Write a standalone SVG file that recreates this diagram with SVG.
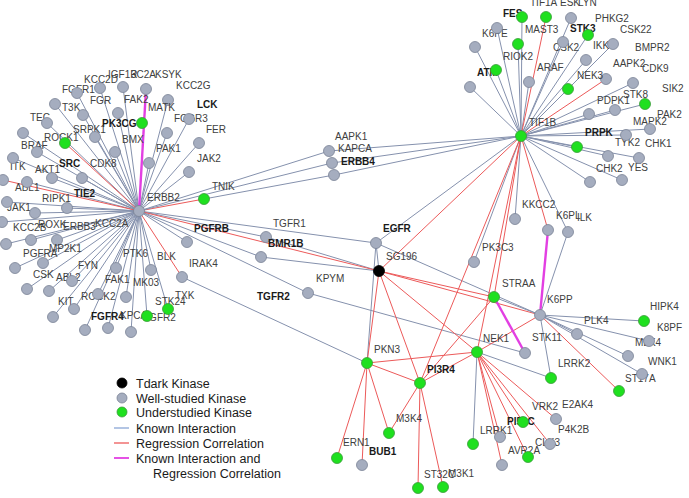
<svg xmlns="http://www.w3.org/2000/svg" width="689" height="498" viewBox="0 0 689 498">
<style>
.k{stroke:#8591ad;stroke-width:1;fill:none}
.r{stroke:#ec5a5a;stroke-width:1;fill:none}
.m{stroke:#e23fe2;stroke-width:2.4;fill:none}
.g{fill:#a5adbf;stroke:#7a8396;stroke-width:0.8}
.u{fill:#1fe01f;stroke:#3a9a3a;stroke-width:0.8}
.d{fill:#000;stroke:#000;stroke-width:0.8}
text{font-family:"Liberation Sans",Arial,sans-serif}
.t{font-size:10px;fill:#404040}
.b{font-weight:bold;fill:#1a1a1a}
.L{font-size:12.5px;fill:#1a1a1a}
</style>
<rect width="689" height="498" fill="#fff"/>
<g id="connectors">
<line class="k" x1="139" y1="211" x2="100" y2="88"/>
<line class="k" x1="139" y1="211" x2="77" y2="93"/>
<line class="k" x1="139" y1="211" x2="123" y2="87"/>
<line class="k" x1="139" y1="211" x2="168" y2="100"/>
<line class="k" x1="139" y1="211" x2="55" y2="104"/>
<line class="k" x1="139" y1="211" x2="83" y2="115"/>
<line class="k" x1="139" y1="211" x2="118" y2="113"/>
<line class="k" x1="139" y1="211" x2="189" y2="119"/>
<line class="k" x1="139" y1="211" x2="47" y2="123"/>
<line class="k" x1="139" y1="211" x2="23" y2="133"/>
<line class="k" x1="139" y1="211" x2="37" y2="152"/>
<line class="k" x1="139" y1="211" x2="95" y2="137"/>
<line class="k" x1="139" y1="211" x2="115" y2="152"/>
<line class="k" x1="139" y1="211" x2="167" y2="133"/>
<line class="k" x1="139" y1="211" x2="199" y2="143"/>
<line class="k" x1="139" y1="211" x2="149" y2="163"/>
<line class="k" x1="139" y1="211" x2="189" y2="172"/>
<line class="k" x1="139" y1="211" x2="13" y2="158"/>
<line class="k" x1="139" y1="211" x2="52" y2="178"/>
<line class="k" x1="139" y1="211" x2="82" y2="178"/>
<line class="k" x1="139" y1="211" x2="27" y2="182"/>
<line class="k" x1="139" y1="211" x2="7" y2="202"/>
<line class="k" x1="139" y1="211" x2="35" y2="213"/>
<line class="k" x1="139" y1="211" x2="67" y2="208"/>
<line class="k" x1="139" y1="211" x2="2" y2="222"/>
<line class="k" x1="139" y1="211" x2="6" y2="244"/>
<line class="k" x1="139" y1="211" x2="31" y2="240"/>
<line class="k" x1="139" y1="211" x2="57" y2="240"/>
<line class="k" x1="139" y1="211" x2="15" y2="268"/>
<line class="k" x1="139" y1="211" x2="43" y2="263"/>
<line class="k" x1="139" y1="211" x2="27" y2="289"/>
<line class="k" x1="139" y1="211" x2="49" y2="291"/>
<line class="k" x1="139" y1="211" x2="72" y2="281"/>
<line class="k" x1="139" y1="211" x2="116" y2="268"/>
<line class="k" x1="139" y1="211" x2="151" y2="270"/>
<line class="k" x1="139" y1="211" x2="187" y2="242"/>
<line class="k" x1="139" y1="211" x2="98" y2="294"/>
<line class="k" x1="139" y1="211" x2="126" y2="297"/>
<line class="k" x1="139" y1="211" x2="74" y2="309"/>
<line class="k" x1="139" y1="211" x2="53" y2="317"/>
<line class="k" x1="139" y1="211" x2="147" y2="316"/>
<line class="k" x1="139" y1="211" x2="168" y2="309"/>
<line class="k" x1="139" y1="211" x2="85" y2="330"/>
<line class="k" x1="139" y1="211" x2="108" y2="328"/>
<line class="k" x1="139" y1="211" x2="131" y2="332"/>
<line class="r" x1="139" y1="211" x2="65" y2="143"/>
<line class="r" x1="139" y1="211" x2="3" y2="180"/>
<line class="r" x1="139" y1="211" x2="204" y2="199"/>
<line class="r" x1="139" y1="211" x2="182" y2="277"/>
<line class="m" x1="139" y1="211" x2="146" y2="89"/>
<line class="k" x1="139" y1="211" x2="329" y2="151"/>
<line class="k" x1="139" y1="211" x2="332" y2="163"/>
<line class="k" x1="204" y1="199" x2="334" y2="175"/>
<line class="k" x1="329" y1="151" x2="521" y2="136"/>
<line class="k" x1="332" y1="163" x2="521" y2="136"/>
<line class="k" x1="334" y1="175" x2="521" y2="136"/>
<line class="k" x1="139" y1="211" x2="376" y2="243"/>
<line class="k" x1="376" y1="243" x2="521" y2="136"/>
<line class="k" x1="376" y1="243" x2="379" y2="271"/>
<line class="k" x1="376" y1="243" x2="540" y2="315"/>
<line class="k" x1="376" y1="243" x2="367" y2="363"/>
<line class="k" x1="139" y1="211" x2="266" y2="237"/>
<line class="k" x1="266" y1="237" x2="379" y2="271"/>
<line class="k" x1="139" y1="211" x2="261" y2="257"/>
<line class="k" x1="261" y1="257" x2="379" y2="271"/>
<line class="k" x1="139" y1="211" x2="308" y2="293"/>
<line class="k" x1="308" y1="293" x2="525" y2="353"/>
<line class="k" x1="182" y1="277" x2="367" y2="363"/>
<line class="r" x1="139" y1="211" x2="379" y2="271"/>
<line class="r" x1="379" y1="271" x2="521" y2="136"/>
<line class="r" x1="379" y1="271" x2="494" y2="297"/>
<line class="r" x1="379" y1="271" x2="540" y2="315"/>
<line class="r" x1="379" y1="271" x2="477" y2="352"/>
<line class="r" x1="379" y1="271" x2="367" y2="363"/>
<line class="r" x1="379" y1="271" x2="420" y2="383"/>
<line class="k" x1="521" y1="136" x2="522" y2="17"/>
<line class="k" x1="521" y1="136" x2="571" y2="18"/>
<line class="k" x1="521" y1="136" x2="497" y2="28"/>
<line class="k" x1="521" y1="136" x2="518" y2="44"/>
<line class="k" x1="521" y1="136" x2="588" y2="35"/>
<line class="k" x1="521" y1="136" x2="563" y2="42"/>
<line class="k" x1="521" y1="136" x2="613" y2="44"/>
<line class="k" x1="521" y1="136" x2="475" y2="47"/>
<line class="k" x1="521" y1="136" x2="586" y2="60"/>
<line class="k" x1="521" y1="136" x2="496" y2="70"/>
<line class="k" x1="521" y1="136" x2="529" y2="82"/>
<line class="k" x1="521" y1="136" x2="633" y2="83"/>
<line class="k" x1="521" y1="136" x2="470" y2="87"/>
<line class="k" x1="521" y1="136" x2="568" y2="89"/>
<line class="k" x1="521" y1="136" x2="645" y2="104"/>
<line class="k" x1="521" y1="136" x2="615" y2="110"/>
<line class="k" x1="521" y1="136" x2="589" y2="114"/>
<line class="k" x1="521" y1="136" x2="650" y2="129"/>
<line class="k" x1="521" y1="136" x2="626" y2="135"/>
<line class="k" x1="521" y1="136" x2="577" y2="147"/>
<line class="k" x1="521" y1="136" x2="608" y2="156"/>
<line class="k" x1="521" y1="136" x2="639" y2="158"/>
<line class="k" x1="521" y1="136" x2="590" y2="182"/>
<line class="k" x1="521" y1="136" x2="622" y2="180"/>
<line class="k" x1="521" y1="136" x2="515" y2="219"/>
<line class="k" x1="521" y1="136" x2="474" y2="262"/>
<line class="k" x1="521" y1="136" x2="568" y2="232"/>
<line class="r" x1="521" y1="136" x2="546" y2="17"/>
<line class="r" x1="521" y1="136" x2="606" y2="79"/>
<line class="r" x1="521" y1="136" x2="548" y2="230"/>
<line class="r" x1="521" y1="136" x2="494" y2="297"/>
<line class="r" x1="521" y1="136" x2="477" y2="352"/>
<line class="r" x1="521" y1="136" x2="420" y2="383"/>
<line class="m" x1="540" y1="315" x2="548" y2="230"/>
<line class="k" x1="540" y1="315" x2="568" y2="232"/>
<line class="k" x1="540" y1="315" x2="494" y2="297"/>
<line class="k" x1="540" y1="315" x2="644" y2="321"/>
<line class="k" x1="540" y1="315" x2="577" y2="334"/>
<line class="k" x1="540" y1="315" x2="649" y2="341"/>
<line class="k" x1="540" y1="315" x2="628" y2="356"/>
<line class="k" x1="540" y1="315" x2="642" y2="374"/>
<line class="k" x1="540" y1="315" x2="551" y2="378"/>
<line class="r" x1="540" y1="315" x2="619" y2="391"/>
<line class="r" x1="540" y1="315" x2="477" y2="352"/>
<line class="m" x1="494" y1="297" x2="525" y2="353"/>
<line class="r" x1="494" y1="297" x2="420" y2="383"/>
<line class="r" x1="477" y1="352" x2="500" y2="437"/>
<line class="r" x1="477" y1="352" x2="502" y2="465"/>
<line class="r" x1="477" y1="352" x2="523" y2="422"/>
<line class="r" x1="477" y1="352" x2="528" y2="457"/>
<line class="r" x1="477" y1="352" x2="550" y2="444"/>
<line class="r" x1="477" y1="352" x2="556" y2="419"/>
<line class="r" x1="477" y1="352" x2="367" y2="363"/>
<line class="r" x1="477" y1="352" x2="420" y2="383"/>
<line class="k" x1="477" y1="352" x2="473" y2="444"/>
<line class="k" x1="477" y1="352" x2="551" y2="378"/>
<line class="r" x1="367" y1="363" x2="337" y2="458"/>
<line class="r" x1="367" y1="363" x2="362" y2="465"/>
<line class="r" x1="367" y1="363" x2="389" y2="433"/>
<line class="r" x1="367" y1="363" x2="420" y2="383"/>
<line class="r" x1="420" y1="383" x2="389" y2="433"/>
<line class="r" x1="420" y1="383" x2="418" y2="488"/>
<line class="r" x1="420" y1="383" x2="443" y2="487"/>
</g>
<g id="n_kcc2d"><text class="t" x="84" y="82.5">KCC2D</text><circle class="g" cx="100" cy="88" r="5.5"/></g>
<g id="n_fgfr1"><text class="t" x="62" y="92.5">FGFR1</text><circle class="g" cx="77" cy="93" r="5.5"/></g>
<g id="n_igf1r"><text class="t" x="108" y="77.5">IGF1R</text><circle class="g" cx="123" cy="87" r="5.5"/></g>
<g id="n_3c2a"><text class="t" x="131" y="77.5">3C2A</text><circle class="g" cx="146" cy="89" r="5.5"/></g>
<g id="n_ksyk"><text class="t" x="155" y="77.5">KSYK</text><text class="t" x="176" y="88.5">KCC2G</text><circle class="g" cx="168" cy="100" r="5.5"/></g>
<g id="n_t3k"><text class="t" x="62" y="110.5">T3K</text><circle class="g" cx="55" cy="104" r="5.5"/></g>
<g id="n_fgr"><text class="t" x="90" y="103.5">FGR</text><circle class="g" cx="83" cy="115" r="5.5"/></g>
<g id="n_fak2"><text class="t" x="124" y="102.5">FAK2</text><circle class="g" cx="118" cy="113" r="5.5"/></g>
<g id="n_matk"><text class="t" x="148" y="110.5">MATK</text><text class="t b" x="197" y="107.5">LCK</text></g>
<g id="n_pk3cg"><text class="t b" x="102" y="126.5">PK3CG</text><circle class="u" cx="142" cy="123" r="5.5"/></g>
<g id="n_fcgr3"><text class="t" x="174" y="121.5">FCGR3</text><circle class="g" cx="189" cy="119" r="5.5"/></g>
<g id="n_tec"><text class="t" x="30" y="120.5">TEC</text><circle class="g" cx="47" cy="123" r="5.5"/></g>
<g id="n_a1"><circle class="g" cx="23" cy="133" r="5.5"/></g>
<g id="n_rock1"><text class="t" x="44" y="140.5">ROCK1</text><circle class="u" cx="65" cy="143" r="5.5"/></g>
<g id="n_braf"><text class="t" x="21" y="148.5">BRAF</text><circle class="g" cx="37" cy="152" r="5.5"/></g>
<g id="n_srpk1"><text class="t" x="73" y="132.5">SRPK1</text><circle class="g" cx="95" cy="137" r="5.5"/></g>
<g id="n_bmx"><text class="t" x="122" y="142.5">BMX</text><circle class="g" cx="115" cy="152" r="5.5"/></g>
<g id="n_pak1"><text class="t" x="156" y="151.5">PAK1</text><circle class="g" cx="167" cy="133" r="5.5"/></g>
<g id="n_fer"><text class="t" x="206" y="132.5">FER</text><circle class="g" cx="199" cy="143" r="5.5"/></g>
<g id="n_cdk8"><text class="t" x="90" y="166.5">CDK8</text><circle class="g" cx="149" cy="163" r="5.5"/></g>
<g id="n_jak2"><text class="t" x="197" y="161.5">JAK2</text><circle class="g" cx="189" cy="172" r="5.5"/></g>
<g id="n_itk"><text class="t" x="10" y="169.5">ITK</text><circle class="g" cx="13" cy="158" r="5.5"/></g>
<g id="n_a2"><circle class="g" cx="3" cy="180" r="5.5"/></g>
<g id="n_akt1"><text class="t" x="35" y="172.5">AKT1</text><circle class="g" cx="52" cy="178" r="5.5"/></g>
<g id="n_src"><text class="t b" x="59" y="166.5">SRC</text><circle class="g" cx="82" cy="178" r="5.5"/></g>
<g id="n_abl1"><text class="t" x="15" y="190.5">ABL1</text><circle class="g" cx="27" cy="182" r="5.5"/></g>
<g id="n_jak1"><text class="t" x="7" y="210.5">JAK1</text><circle class="g" cx="7" cy="202" r="5.5"/></g>
<g id="n_ripk1"><text class="t" x="42" y="201.5">RIPK1</text><circle class="g" cx="35" cy="213" r="5.5"/></g>
<g id="n_tie2"><text class="t b" x="74" y="196.5">TIE2</text><circle class="g" cx="67" cy="208" r="5.5"/></g>
<g id="n_a3"><circle class="g" cx="2" cy="222" r="5.5"/></g>
<g id="n_kcc2b"><text class="t" x="13" y="230.5">KCC2B</text><circle class="g" cx="6" cy="244" r="5.5"/></g>
<g id="n_roxk"><text class="t" x="38" y="227.5">ROXK</text><circle class="g" cx="31" cy="240" r="5.5"/></g>
<g id="n_erbb3"><text class="t" x="63" y="229.5">ERBB3</text><text class="t" x="95" y="226.5">KCC2A</text><circle class="g" cx="57" cy="240" r="5.5"/></g>
<g id="n_pgfra"><text class="t" x="23" y="256.5">PGFRA</text><circle class="g" cx="15" cy="268" r="5.5"/></g>
<g id="n_mp2k1"><text class="t" x="49" y="251.5">MP2K1</text><circle class="g" cx="43" cy="263" r="5.5"/></g>
<g id="n_csk"><text class="t" x="33" y="277.5">CSK</text><circle class="g" cx="27" cy="289" r="5.5"/></g>
<g id="n_abl2"><text class="t" x="56" y="280.5">ABL2</text><circle class="g" cx="49" cy="291" r="5.5"/></g>
<g id="n_fyn"><text class="t" x="78" y="268.5">FYN</text><circle class="g" cx="72" cy="281" r="5.5"/></g>
<g id="n_ptk6"><text class="t" x="123" y="256.5">PTK6</text><circle class="g" cx="116" cy="268" r="5.5"/></g>
<g id="n_blk"><text class="t" x="157" y="259.5">BLK</text><circle class="g" cx="151" cy="270" r="5.5"/></g>
<g id="n_irak4"><text class="t" x="189" y="266.5">IRAK4</text><circle class="g" cx="182" cy="277" r="5.5"/></g>
<g id="n_pgfrb"><text class="t b" x="194" y="231.5">PGFRB</text><circle class="g" cx="187" cy="242" r="5.5"/></g>
<g id="n_fak1"><text class="t" x="105" y="282.5">FAK1</text><circle class="g" cx="126" cy="297" r="5.5"/></g>
<g id="n_rock2"><text class="t" x="81" y="299.5">ROCK2</text><circle class="g" cx="98" cy="294" r="5.5"/></g>
<g id="n_kit"><text class="t" x="58" y="304.5">KIT</text><circle class="g" cx="74" cy="309" r="5.5"/></g>
<g id="n_a4"><circle class="g" cx="53" cy="317" r="5.5"/></g>
<g id="n_mk03"><text class="t" x="133" y="285.5">MK03</text><circle class="g" cx="131" cy="332" r="5.5"/></g>
<g id="n_fgfr4"><text class="t b" x="91" y="319.5">FGFR4</text><circle class="g" cx="85" cy="330" r="5.5"/></g>
<g id="n_kpca"><text class="t" x="120" y="318.5">KPCA</text><circle class="g" cx="108" cy="328" r="5.5"/></g>
<g id="n_fgfr2"><text class="t" x="143" y="320.5">FGFR2</text><circle class="u" cx="147" cy="316" r="5.5"/></g>
<g id="n_stk24"><text class="t" x="175" y="298.5">TXK</text><text class="t" x="155" y="304.5">STK24</text><circle class="u" cx="168" cy="309" r="5.5"/></g>
<g id="n_tnik"><text class="t" x="212" y="189.5">TNIK</text><circle class="u" cx="204" cy="199" r="5.5"/></g>
<g id="n_erbb2"><text class="t" x="147" y="200.5">ERBB2</text><circle class="g" cx="139" cy="211" r="5.5"/></g>
<g id="n_aapk1"><text class="t" x="335" y="139.5">AAPK1</text><circle class="g" cx="329" cy="151" r="5.5"/></g>
<g id="n_kapca"><text class="t" x="338" y="151.5">KAPCA</text><circle class="g" cx="332" cy="163" r="5.5"/></g>
<g id="n_erbb4"><text class="t b" x="341" y="164.5">ERBB4</text><circle class="g" cx="334" cy="175" r="5.5"/></g>
<g id="n_tgfr1"><text class="t" x="273" y="226.5">TGFR1</text><circle class="g" cx="266" cy="237" r="5.5"/></g>
<g id="n_bmr1b"><text class="t b" x="268" y="246.5">BMR1B</text><circle class="g" cx="261" cy="257" r="5.5"/></g>
<g id="n_kpym"><text class="t" x="316" y="281.5">KPYM</text><text class="t b" x="257" y="299.5">TGFR2</text><circle class="g" cx="308" cy="293" r="5.5"/></g>
<g id="n_egfr"><text class="t b" x="383" y="231.5">EGFR</text><circle class="g" cx="376" cy="243" r="5.5"/></g>
<g id="n_sg196"><text class="t" x="386" y="259.5">SG196</text><circle class="d" cx="379" cy="271" r="5.5"/></g>
<g id="n_pkn3"><text class="t" x="374" y="352.5">PKN3</text><circle class="u" cx="367" cy="363" r="5.5"/></g>
<g id="n_pi3r4"><text class="t b" x="427" y="372.5">PI3R4</text><circle class="u" cx="420" cy="383" r="5.5"/></g>
<g id="n_m3k4"><text class="t" x="396" y="421.5">M3K4</text><circle class="u" cx="389" cy="433" r="5.5"/></g>
<g id="n_ern1"><text class="t" x="343" y="445.5">ERN1</text><circle class="u" cx="337" cy="458" r="5.5"/></g>
<g id="n_bub1"><text class="t b" x="369" y="454.5">BUB1</text><circle class="g" cx="362" cy="465" r="5.5"/></g>
<g id="n_st32c"><text class="t" x="424" y="477.5">ST32C</text><circle class="u" cx="418" cy="488" r="5.5"/></g>
<g id="n_m3k1"><text class="t" x="448" y="476.5">M3K1</text><circle class="u" cx="443" cy="487" r="5.5"/></g>
<g id="n_b1"><circle class="u" cx="473" cy="444" r="5.5"/></g>
<g id="n_lrrk1"><text class="t" x="480" y="433.5">LRRK1</text><circle class="g" cx="500" cy="437" r="5.5"/></g>
<g id="n_b2"><circle class="g" cx="502" cy="465" r="5.5"/></g>
<g id="n_pi51c"><text class="t b" x="507" y="424.5">PI51C</text><circle class="u" cx="523" cy="422" r="5.5"/></g>
<g id="n_avr2a"><text class="t" x="508" y="453.5">AVR2A</text><circle class="u" cx="528" cy="457" r="5.5"/></g>
<g id="n_clk3"><text class="t" x="535" y="445.5">CLK3</text><circle class="g" cx="550" cy="444" r="5.5"/></g>
<g id="n_vrk2"><text class="t" x="532" y="409.5">VRK2</text><text class="t" x="562" y="407.5">E2AK4</text><text class="t" x="558" y="432.5">P4K2B</text><circle class="g" cx="556" cy="419" r="5.5"/></g>
<g id="n_nek1"><text class="t" x="483" y="341.5">NEK1</text><circle class="u" cx="477" cy="352" r="5.5"/></g>
<g id="n_kkcc2"><text class="t" x="522" y="207.5">KKCC2</text><circle class="g" cx="515" cy="219" r="5.5"/></g>
<g id="n_k6pl"><text class="t" x="556" y="218.5">K6PL</text><circle class="g" cx="548" cy="230" r="5.5"/></g>
<g id="n_ilk"><text class="t" x="577" y="220.5">ILK</text><circle class="g" cx="568" cy="232" r="5.5"/></g>
<g id="n_pk3c3"><text class="t" x="482" y="250.5">PK3C3</text><circle class="g" cx="474" cy="262" r="5.5"/></g>
<g id="n_straa"><text class="t" x="502" y="286.5">STRAA</text><circle class="u" cx="494" cy="297" r="5.5"/></g>
<g id="n_k6pp"><text class="t" x="547" y="302.5">K6PP</text><circle class="g" cx="540" cy="315" r="5.5"/></g>
<g id="n_hipk4"><text class="t" x="650" y="309.5">HIPK4</text><circle class="u" cx="644" cy="321" r="5.5"/></g>
<g id="n_plk4"><text class="t" x="584" y="323.5">PLK4</text><circle class="g" cx="577" cy="334" r="5.5"/></g>
<g id="n_mlk4"><text class="t" x="657" y="330.5">K8PF</text><text class="t" x="635" y="345.5">MLK4</text><circle class="g" cx="649" cy="341" r="5.5"/></g>
<g id="n_stk11"><text class="t" x="532" y="340.5">STK11</text><circle class="g" cx="525" cy="353" r="5.5"/></g>
<g id="n_wnk1"><text class="t" x="648" y="364.5">WNK1</text><circle class="g" cx="628" cy="356" r="5.5"/></g>
<g id="n_st17a"><text class="t" x="625" y="381.5">ST17A</text><circle class="g" cx="642" cy="374" r="5.5"/></g>
<g id="n_lrrk2"><text class="t" x="558" y="366.5">LRRK2</text><circle class="u" cx="551" cy="378" r="5.5"/></g>
<g id="n_c1"><circle class="u" cx="619" cy="391" r="5.5"/></g>
<g id="n_fes"><text class="t b" x="503" y="16.5">FES</text><circle class="u" cx="522" cy="17" r="5.5"/></g>
<g id="n_tif1a"><text class="t" x="530" y="6">TIF1A</text><circle class="u" cx="546" cy="17" r="5.5"/></g>
<g id="n_esk"><text class="t" x="560" y="6">ESK</text><text class="t" x="578" y="6">LYN</text><circle class="g" cx="571" cy="18" r="5.5"/></g>
<g id="n_k6pe"><text class="t" x="482" y="36.5">K6PE</text><circle class="g" cx="497" cy="28" r="5.5"/></g>
<g id="n_mast3"><text class="t" x="525" y="32.5">MAST3</text></g>
<g id="n_riok2"><text class="t" x="503" y="59.5">RIOK2</text><circle class="u" cx="518" cy="44" r="5.5"/></g>
<g id="n_stk3"><text class="t b" x="570" y="31.5">STK3</text><text class="t" x="595" y="21.5">PHKG2</text><circle class="u" cx="588" cy="35" r="5.5"/></g>
<g id="n_csk2"><text class="t" x="553" y="50.5">CSK2</text><circle class="g" cx="563" cy="42" r="5.5"/></g>
<g id="n_ikk"><text class="t" x="593" y="48.5">IKK</text><text class="t" x="620" y="32.5">CSK22</text><text class="t" x="635" y="50.5">BMPR2</text><circle class="g" cx="613" cy="44" r="5.5"/></g>
<g id="n_r1"><circle class="g" cx="475" cy="47" r="5.5"/></g>
<g id="n_r2"><circle class="g" cx="586" cy="60" r="5.5"/></g>
<g id="n_atm"><text class="t b" x="477" y="75.5">ATM</text><circle class="u" cx="496" cy="70" r="5.5"/></g>
<g id="n_araf"><text class="t" x="537" y="70.5">ARAF</text><circle class="g" cx="529" cy="82" r="5.5"/></g>
<g id="n_aapk2"><text class="t" x="613" y="66.5">AAPK2</text><circle class="g" cx="606" cy="79" r="5.5"/></g>
<g id="n_cdk9"><text class="t" x="642" y="71.5">CDK9</text><text class="t" x="662" y="91.5">SIK2</text><circle class="g" cx="633" cy="83" r="5.5"/></g>
<g id="n_r3"><circle class="g" cx="470" cy="87" r="5.5"/></g>
<g id="n_nek3"><text class="t" x="577" y="78.5">NEK3</text><circle class="u" cx="568" cy="89" r="5.5"/></g>
<g id="n_stk8"><text class="t" x="623" y="97.5">STK8</text><circle class="u" cx="645" cy="104" r="5.5"/></g>
<g id="n_pdpk1"><text class="t" x="597" y="103.5">PDPK1</text><circle class="g" cx="615" cy="110" r="5.5"/></g>
<g id="n_r4"><circle class="g" cx="589" cy="114" r="5.5"/></g>
<g id="n_mapk2"><text class="t" x="657" y="117.5">PAK2</text><text class="t" x="633" y="124.5">MAPK2</text><circle class="g" cx="650" cy="129" r="5.5"/></g>
<g id="n_tyk2"><text class="t" x="615" y="145.5">TYK2</text><text class="t" x="645" y="146.5">CHK1</text><circle class="g" cx="626" cy="135" r="5.5"/></g>
<g id="n_prpk"><text class="t b" x="585" y="135.5">PRPK</text><circle class="u" cx="577" cy="147" r="5.5"/></g>
<g id="n_chk2"><text class="t" x="596" y="171.5">CHK2</text><circle class="g" cx="608" cy="156" r="5.5"/></g>
<g id="n_yes"><text class="t" x="628" y="170.5">YES</text><circle class="g" cx="639" cy="158" r="5.5"/></g>
<g id="n_r5"><circle class="g" cx="590" cy="182" r="5.5"/></g>
<g id="n_r6"><circle class="g" cx="622" cy="180" r="5.5"/></g>
<g id="n_tif1b"><text class="t" x="529" y="125.5">TIF1B</text><circle class="u" cx="521" cy="136" r="5.5"/></g>
<g id="legend">
<circle class="d" cx="122" cy="383" r="5"/>
<text class="L" x="136" y="387.5">Tdark Kinase</text>
<circle class="g" cx="122" cy="398" r="5"/>
<text class="L" x="136" y="402.5">Well-studied Kinase</text>
<circle class="u" cx="122" cy="412" r="5"/>
<text class="L" x="136" y="416.5">Understudied Kinase</text>
<line x1="114" y1="428" x2="129" y2="428" stroke="#8aa6d6" stroke-width="1.3"/>
<text class="L" x="136" y="432.5">Known Interaction</text>
<line x1="114" y1="443" x2="129" y2="443" stroke="#ec5a5a" stroke-width="1.3"/>
<text class="L" x="136" y="447.5">Regression Correlation</text>
<line x1="114" y1="458" x2="129" y2="458" stroke="#e23fe2" stroke-width="1.8"/>
<text class="L" x="136" y="462.5">Known Interaction and</text>
<text class="L" x="153" y="477.5">Regression Correlation</text>
</g>
</svg>
